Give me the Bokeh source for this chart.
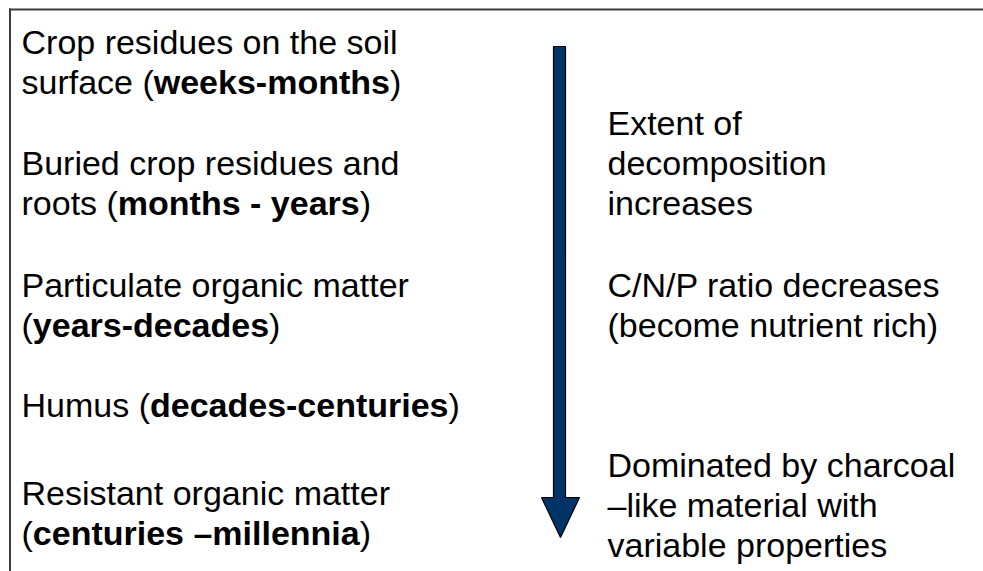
from bokeh.plotting import figure
from bokeh.models import Range1d, ColumnDataSource
from bokeh.core.properties import value
from bokeh.embed import file_html
from bokeh.resources import INLINE

# ---- content ----
# left column: (regular prefix, bold part, regular suffix)
left_lines = [
    ("Crop residues on the soil", "", ""),
    ("surface (", "weeks-months", ")"),
    ("Buried crop residues and", "", ""),
    ("roots (", "months - years", ")"),
    ("Particulate organic matter", "", ""),
    ("(", "years-decades", ")"),
    ("Humus (", "decades-centuries", ")"),
    ("Resistant organic matter", "", ""),
    ("(", "centuries \u2013millennia", ")"),
]
left_baselines = [41, 81, 162, 202, 284, 324, 404, 492, 532]

right_lines = [
    "Extent of",
    "decomposition",
    "increases",
    "C/N/P ratio decreases",
    "(become nutrient rich)",
    "Dominated by charcoal",
    "\u2013like material with",
    "variable properties",
]
right_baselines = [122, 162, 202, 284, 324, 464, 504, 544]

# ---- layout / style ----
W, H = 983, 571
FS = 34
FONT = "Liberation Sans"
LEFT_X = 21
RIGHT_X = 607

# Arial / Liberation Sans advance widths (1/1000 em)
REG = {' ': 278, '(': 333, ')': 333, '-': 333, '\u2013': 556, '/': 278,
       'a': 556, 'b': 556, 'c': 500, 'd': 556, 'e': 556, 'f': 278, 'g': 556,
       'h': 556, 'i': 222, 'k': 500, 'l': 222, 'm': 833, 'n': 556, 'o': 556,
       'p': 556, 'r': 333, 's': 500, 't': 278, 'u': 556, 'v': 500, 'w': 722,
       'y': 500, 'B': 667, 'C': 722, 'H': 722, 'P': 667, 'R': 722}
BOLD = {' ': 278, '(': 333, ')': 333, '-': 333, '\u2013': 556,
        'a': 556, 'c': 556, 'd': 611, 'e': 556, 'h': 611, 'i': 278, 'k': 556,
        'l': 278, 'm': 889, 'n': 611, 'o': 611, 'r': 389, 's': 556, 't': 333,
        'u': 611, 'w': 778, 'y': 556}


def width(s, table):
    return sum(table.get(ch, 556) for ch in s) * FS / 1000.0


reg_x, reg_y, reg_t = [], [], []
bold_x, bold_y, bold_t = [], [], []
for (pre, bold, suf), yb in zip(left_lines, left_baselines):
    x = LEFT_X
    if pre:
        reg_x.append(x); reg_y.append(yb); reg_t.append(pre)
        x += width(pre, REG)
    if bold:
        bold_x.append(x); bold_y.append(yb); bold_t.append(bold)
        x += width(bold, BOLD)
    if suf:
        reg_x.append(x); reg_y.append(yb); reg_t.append(suf)

for t, yb in zip(right_lines, right_baselines):
    reg_x.append(RIGHT_X); reg_y.append(yb); reg_t.append(t)

p = figure(width=W, height=H, output_backend="svg", toolbar_location=None,
           x_range=Range1d(0, W), y_range=Range1d(H, 0),
           x_axis_type=None, y_axis_type=None, min_border=0,
           outline_line_color=None, background_fill_color="white",
           border_fill_color="white")
p.xgrid.visible = False
p.ygrid.visible = False

# frame lines (top and left edges of the box)
p.segment(x0=[8.5, 9.5], y0=[9, 8], x1=[983, 9.5], y1=[9, 571],
          line_color="#3c3c3c", line_width=2)

# arrow (decoration)
ax = [553, 565, 565, 579, 560, 541, 553]
ay = [46, 46, 497, 497, 537, 497, 497]
p.patch(ax, ay, fill_color="#003366", line_color="black", line_width=1.2)

src_r = ColumnDataSource(dict(x=reg_x, y=reg_y, t=reg_t))
src_b = ColumnDataSource(dict(x=bold_x, y=bold_y, t=bold_t))
p.text(x="x", y="y", text="t", source=src_r, text_font=value(FONT),
       text_font_size=value(f"{FS}px"), text_color="black",
       text_baseline="alphabetic", text_align="left")
p.text(x="x", y="y", text="t", source=src_b, text_font=value(FONT),
       text_font_size=value(f"{FS}px"), text_font_style="bold",
       text_color="black", text_baseline="alphabetic", text_align="left")

open("out.html", "w").write(file_html(p, INLINE))
